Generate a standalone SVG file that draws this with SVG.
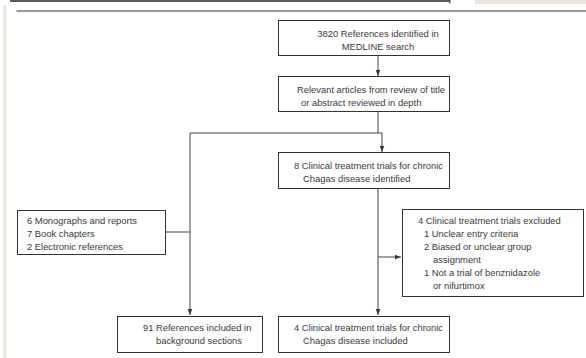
<svg xmlns="http://www.w3.org/2000/svg" width="586" height="358" viewBox="0 0 586 358">
<defs>
<style>
.box{fill:#fff;stroke:#333;stroke-width:1}
.t{font-family:"Liberation Sans",Arial,sans-serif;font-size:9.4px;fill:#3a3842}
.c{text-anchor:middle}
.ln{fill:none;stroke:#444;stroke-width:1}
</style>
<marker id="ah" viewBox="0 0 6 6" refX="6" refY="3" markerWidth="6" markerHeight="6" orient="auto" markerUnits="userSpaceOnUse">
<path d="M0,0.8 L6,3 L0,5.2 Z" fill="#333"/>
</marker>
</defs>
<rect width="586" height="358" fill="#fff"/>
<g id="frame">
<rect x="10" y="0" width="440" height="2" fill="#5a5a5a"/>
<rect x="449" y="0" width="1.5" height="3.5" fill="#5a5a5a"/>
<rect x="475" y="0" width="111" height="4" fill="#e8e4dd"/>
<rect x="3" y="5" width="3.5" height="353" fill="#ebe7e0"/>
<rect x="16.5" y="10" width="569.5" height="2" fill="#999"/>
</g>
<g id="connectors">
<line class="ln" x1="378" y1="55" x2="378" y2="76" marker-end="url(#ah)"/>
<polyline class="ln" points="378,111 378,133"/>
<polyline class="ln" points="190,133 382,133 382,152" marker-end="url(#ah)"/>
<line class="ln" x1="190" y1="133" x2="190" y2="315" marker-end="url(#ah)"/>
<line class="ln" x1="165" y1="232" x2="190" y2="232"/>
<line class="ln" x1="378" y1="188" x2="378" y2="315" marker-end="url(#ah)"/>
<line class="ln" x1="378" y1="257" x2="401" y2="257" marker-end="url(#ah)"/>
</g>
<g id="n1">
<rect class="box" x="278.5" y="20.5" width="171" height="35"/>
<text class="t c" x="378" y="37">3820 References identified in</text>
<text class="t c" x="378" y="49.5">MEDLINE search</text>
</g>
<g id="n2">
<rect class="box" x="278.5" y="76.5" width="171" height="35"/>
<text class="t" x="297" y="93">Relevant articles from review of title</text>
<text class="t" x="301" y="105.5">or abstract reviewed in depth</text>
</g>
<g id="n3">
<rect class="box" x="278.5" y="152.5" width="171" height="36"/>
<text class="t" x="294" y="168.5">8 Clinical treatment trials for chronic</text>
<text class="t" x="303" y="181.5">Chagas disease identified</text>
</g>
<g id="n4">
<rect class="box" x="17.5" y="210.5" width="148" height="44"/>
<text class="t" x="27" y="223.5">6 Monographs and reports</text>
<text class="t" x="27" y="236.5">7 Book chapters</text>
<text class="t" x="27" y="249.5">2 Electronic references</text>
</g>
<g id="n5">
<rect class="box" x="402.5" y="209.5" width="181" height="87"/>
<text class="t" x="418" y="223.5">4 Clinical treatment trials excluded</text>
<text class="t" x="424" y="237">1 Unclear entry criteria</text>
<text class="t" x="424" y="249.5">2 Biased or unclear group</text>
<text class="t" x="433" y="262.5">assignment</text>
<text class="t" x="424" y="275.5">1 Not a trial of benznidazole</text>
<text class="t" x="433" y="288.5">or nifurtimox</text>
</g>
<g id="n6">
<rect class="box" x="117.5" y="316.5" width="145" height="36"/>
<text class="t" x="143" y="330.5">91 References included in</text>
<text class="t" x="156" y="343.5">background sections</text>
</g>
<g id="n7">
<rect class="box" x="278.5" y="316.5" width="171" height="36"/>
<text class="t" x="294" y="330.5">4 Clinical treatment trials for chronic</text>
<text class="t" x="303" y="343.5">Chagas disease included</text>
</g>
</svg>
